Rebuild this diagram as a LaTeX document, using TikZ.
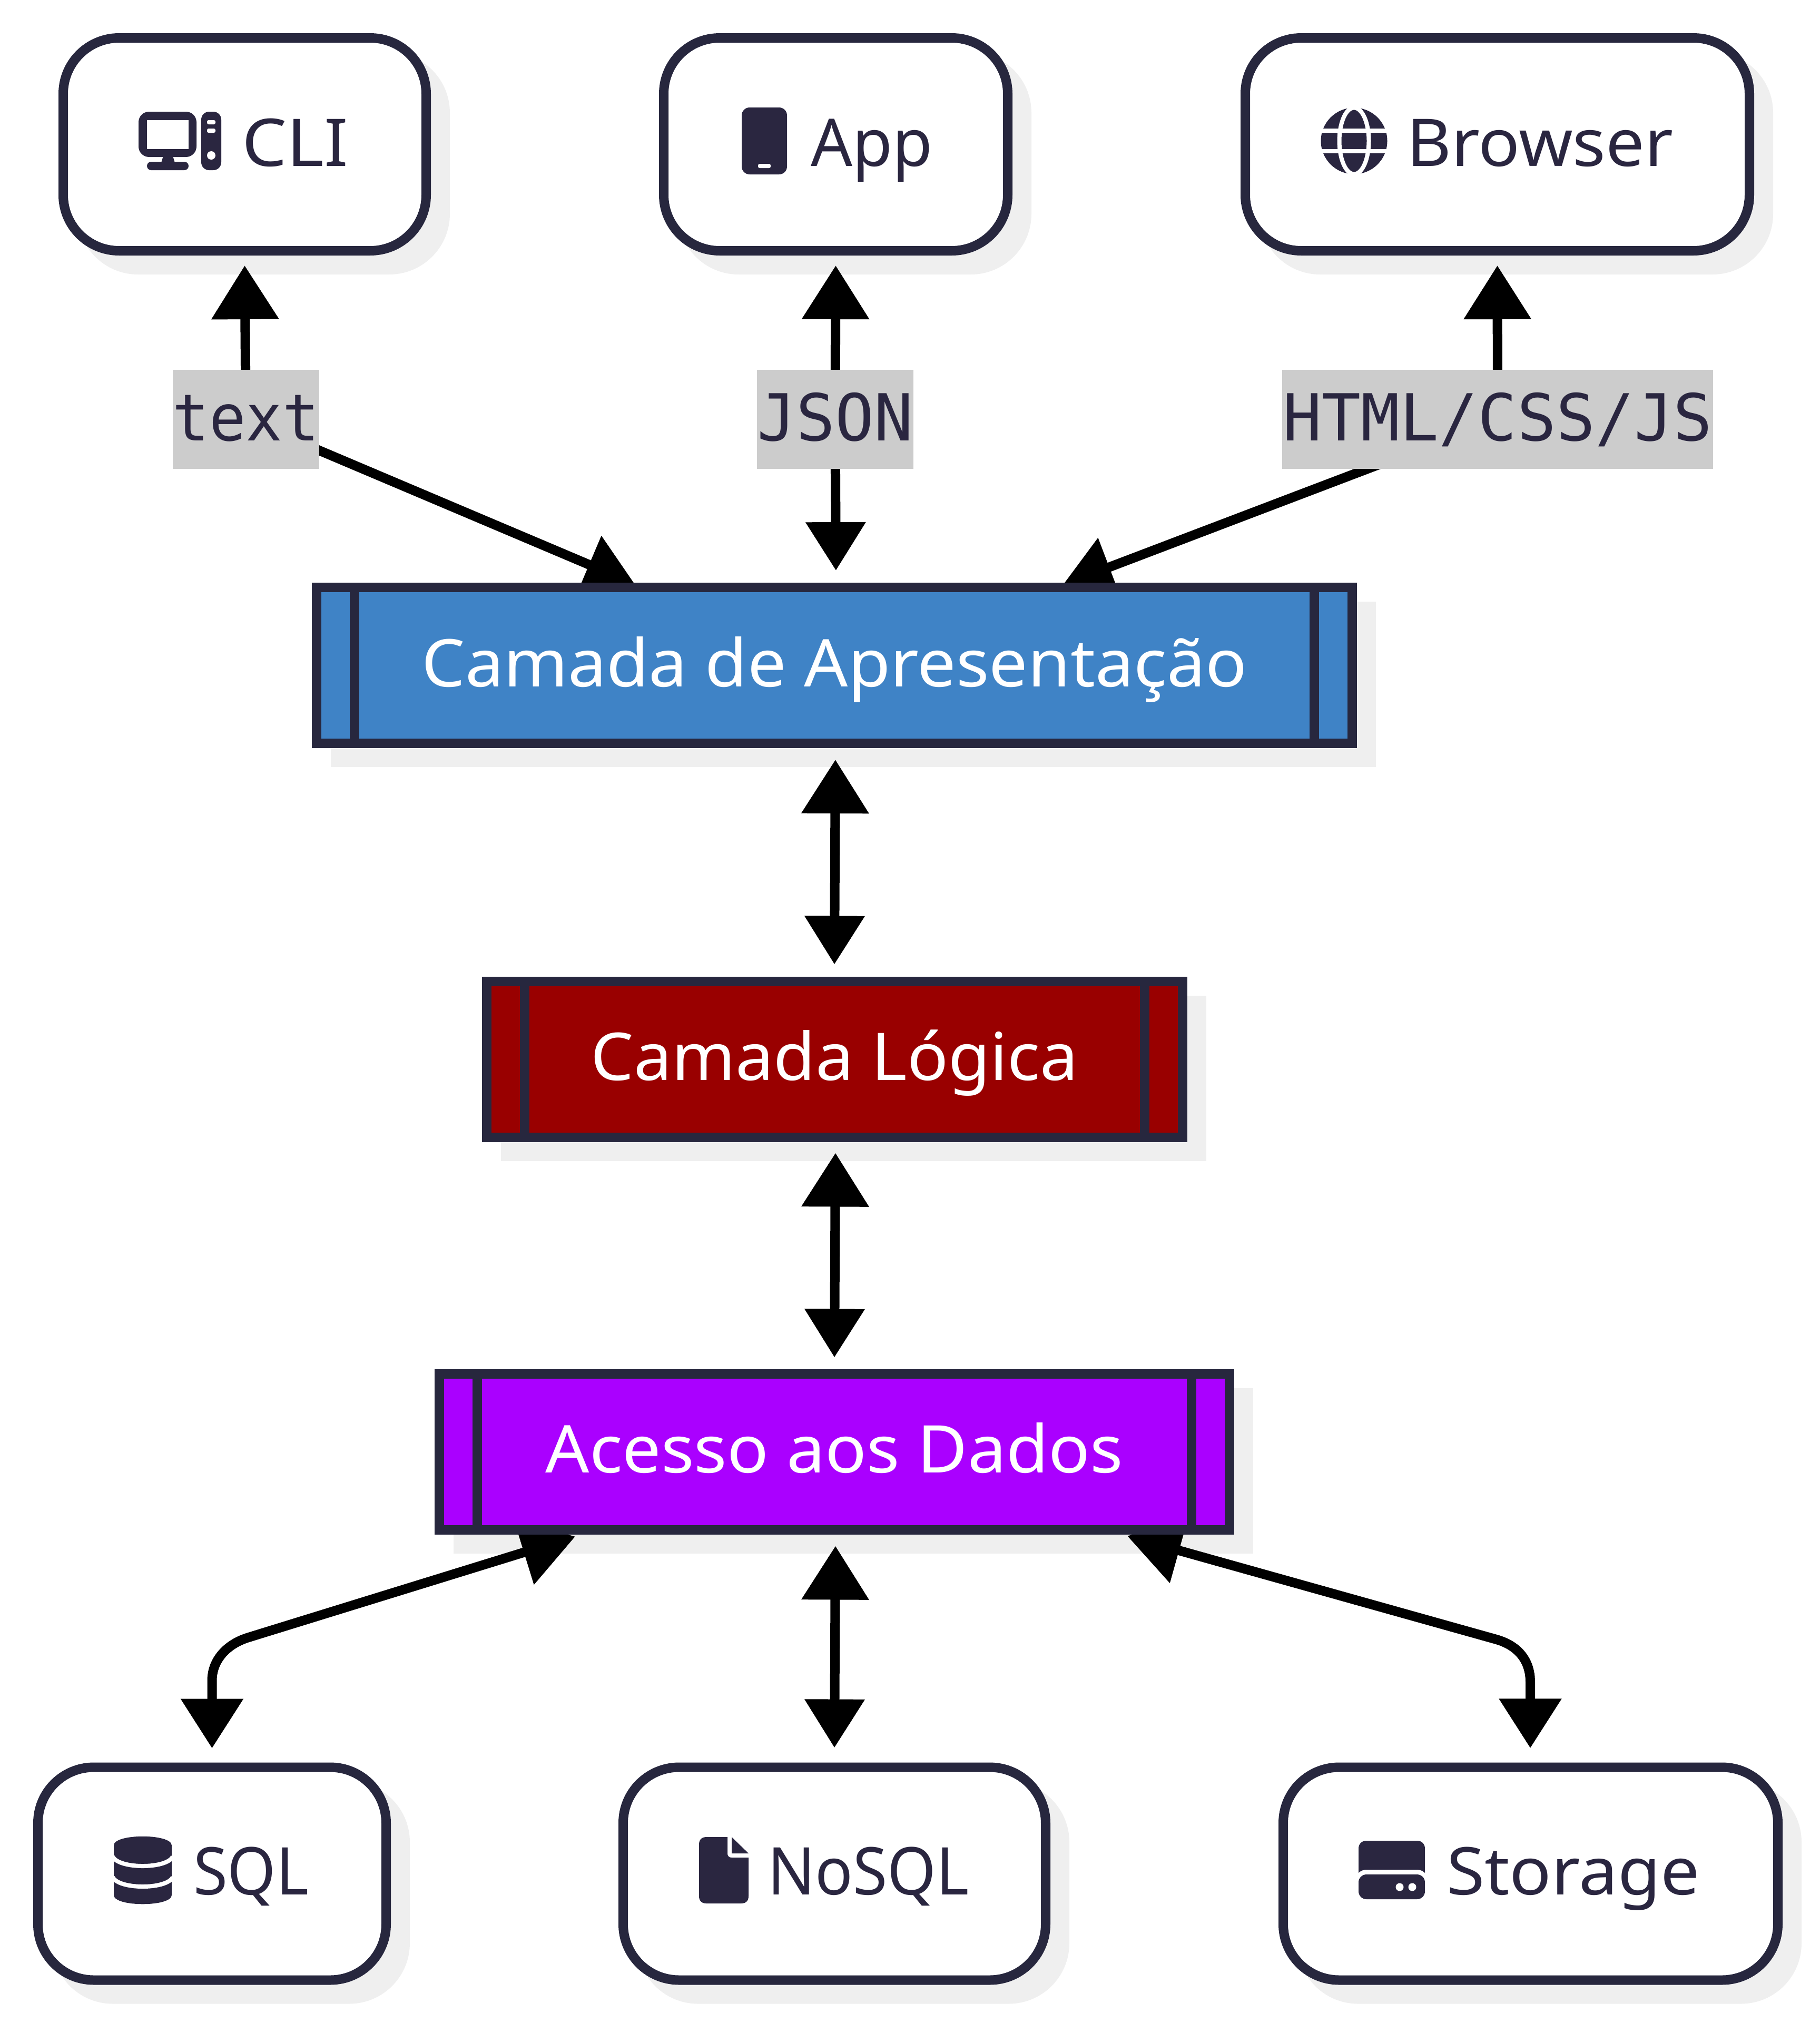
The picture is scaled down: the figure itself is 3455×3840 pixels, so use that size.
\documentclass[tikz,border=0pt]{standalone}
\usepackage{fontspec}
\setmainfont{Noto Sans}
\newfontfamily\labelfont{DejaVu Sans Mono}
\usetikzlibrary{arrows.meta}
\definecolor{ink}{HTML}{27273E}
\definecolor{inktext}{HTML}{2A2640}
\definecolor{shade}{HTML}{EFEFEF}
\definecolor{lblgrey}{HTML}{CCCCCC}
\definecolor{presblue}{HTML}{3F83C6}
\definecolor{logicred}{HTML}{990000}
\definecolor{datapurple}{HTML}{AA00FF}
\pgfdeclarelayer{shadowlayer}
\pgfdeclarelayer{edgelayer}
\pgfsetlayers{shadowlayer,edgelayer,main}
\tikzset{
  rbox/.style={rectangle,rounded corners=10.6pt,line width=1.8pt,draw=ink,fill=white,inner sep=0pt,outer sep=0pt,minimum height=40.4pt},
  rshadow/.style={rectangle,rounded corners=10.6pt,line width=1.8pt,draw=shade,fill=shade,inner sep=0pt,outer sep=0pt,minimum height=40.4pt},
  subbox/.style={rectangle,line width=1.8pt,draw=ink,inner sep=0pt,outer sep=0pt,minimum height=29.6pt,text=white,font=\fontsize{12.5pt}{14pt}\selectfont,text height=8pt,text depth=0pt},
  sshadow/.style={rectangle,line width=1.8pt,draw=shade,fill=shade,inner sep=0pt,outer sep=0pt,minimum height=29.6pt},
  bar/.style={line width=1.8pt,draw=ink},
  boxtext/.style={anchor=base west,inner sep=0pt,outer sep=0pt,text=inktext,font=\fontsize{12.5pt}{14pt}\selectfont},
  edgelabel/.style={rectangle,fill=lblgrey,inner sep=0pt,outer sep=0pt,minimum height=18.8pt,text=inktext,font=\labelfont\fontsize{12.3pt}{14pt}\selectfont,text height=8pt,text depth=0pt},
  conn/.style={line width=1.8pt,draw=black,{Triangle[length=10.2pt,width=12.4pt]}-{Triangle[length=9.2pt,width=11pt]}},
  connflat/.style={line width=1.8pt,draw=black,{Triangle[length=10.2pt,width=12.4pt]}-{Triangle[length=9.4pt,width=11.46pt]}},
  icon/.style={fill=inktext,draw=none},
  cut/.style={line width=0.8pt,draw=white}
}
\newcommand{\rnode}[4]{%
  \begin{pgfonlayer}{shadowlayer}
    \node[rshadow,minimum width=#4*0.1pt] (#1S) at (#2+36,#3+36) {};
  \end{pgfonlayer}
  \node[rbox,minimum width=#4*0.1pt] (#1) at (#2,#3) {};
}
\newcommand{\snode}[6]{%
  \begin{pgfonlayer}{shadowlayer}
    \node[sshadow,minimum width=#4*0.1pt] (#1S) at (#2+36,#3+36) {};
  \end{pgfonlayer}
  \node[subbox,fill=#5,minimum width=#4*0.1pt] (#1) at (#2,#3) {#6};
  \draw[bar] ([xshift=7.17pt]#1.north west) -- ([xshift=7.17pt]#1.south west);
  \draw[bar] ([xshift=-7.17pt]#1.north east) -- ([xshift=-7.17pt]#1.south east);
}
\begin{document}
\begin{tikzpicture}[x=0.1pt,y=-0.1pt]
\useasboundingbox (0,0) rectangle (3455,3840);

% top row
\rnode{cli}{464.5}{274}{689}
\rnode{app}{1586.5}{274}{653}
\rnode{browser}{2842.5}{274}{957}
% layers
\snode{pres}{1583.85}{1263}{1965.7}{presblue}{\scalebox{1.044}[1]{Camada de Apresentação}}
\snode{logic}{1584.5}{2010.5}{1321}{logicred}{\scalebox{1.033}[1]{Camada Lógica}}
\snode{data}{1584}{2755.5}{1500}{datapurple}{\scalebox{1.044}[1]{Acesso aos Dados}}
% bottom row
\rnode{sql}{402.5}{3556.5}{661}
\rnode{nosql}{1584}{3556.5}{802}
\rnode{storage}{2905.5}{3556.5}{939}

% box texts
\node[boxtext] (cliT) at (459,315) {\scalebox{1.08}[1]{CLI}};
\node[boxtext] (appT) at (1539,315) {\scalebox{0.99}[1]{App}};
\node[boxtext] (browserT) at (2670,315) {\scalebox{1.046}[1]{Browser}};
\node[boxtext] (sqlT) at (367,3596) {\scalebox{0.946}[1]{SQL}};
\node[boxtext] (nosqlT) at (1457,3596) {\scalebox{0.95}[1]{NoSQL}};
\node[boxtext] (storageT) at (2746,3596) {\scalebox{1.054}[1]{Storage}};

% edge labels
\node[edgelabel,minimum width=27.8pt] (lblText) at (466.8,796) {\scalebox{0.94}[1]{text}};
\node[edgelabel,minimum width=29.7pt] (lblJson) at (1585.5,796) {JSON};
\node[edgelabel,minimum width=81.8pt] (lblHtml) at (2843,796) {HTML/CSS/JS};

% connectors
\begin{pgfonlayer}{edgelayer}
\draw[connflat] ([yshift=-2.8pt]cli.south) -- (lblText.center) -- ([xshift=-37.9pt,yshift=0.65pt]pres.north);
\draw[conn] ([yshift=-2.8pt]app.south) -- (lblJson.center) -- ([xshift=0.3pt,yshift=3.2pt]pres.north);
\draw[connflat] ([yshift=-2.8pt]browser.south) -- (lblHtml.center) -- ([xshift=43.4pt,yshift=0.5pt]pres.north);
\draw[conn] ([xshift=0.2pt,yshift=-3.1pt]pres.south) -- ([xshift=-0.05pt,yshift=3.2pt]logic.north);
\draw[conn] ([xshift=0.15pt,yshift=-3pt]logic.south) -- ([yshift=3.1pt]data.north);
\draw[conn] ([xshift=0.2pt,yshift=-3.1pt]data.south) -- ([yshift=3.7pt]nosql.north);
\draw[connflat] ([xshift=-49.2pt,yshift=-1.3pt]data.south) -- (472,3108) .. controls (432,3120) and (402.5,3150) .. (402.5,3190) -- ([yshift=3.6pt]sql.north);
\draw[connflat] ([xshift=55.6pt,yshift=-1.2pt]data.south) -- (2840,3111.7) .. controls (2880,3123) and (2905,3150) .. (2905,3193) -- ([xshift=-0.05pt,yshift=3.63pt]storage.north);
\end{pgfonlayer}

% icon: desktop
\fill[icon,rounded corners=2pt] (263,212) rectangle (373,298);
\fill[white] (279,228) rectangle (358,283);
\fill[icon] (310,296) -- (328,296) -- (332,309) -- (306,309) -- cycle;
\fill[icon,rounded corners=0.8pt] (279,307) rectangle (358,323);
\fill[icon,rounded corners=1.5pt] (382,212) rectangle (420,323);
\fill[white,rounded corners=0.3pt] (393,228) rectangle (409,236);
\fill[white,rounded corners=0.3pt] (393,244) rectangle (409,252);
\fill[white] (401,295) circle (8);

% icon: phone
\fill[icon,rounded corners=1.5pt] (1408,204) rectangle (1494,331);
\fill[white,rounded corners=0.3pt] (1439,311) rectangle (1463,319);

% icon: globe
\fill[icon] (2570.5,267.5) circle (63);
\draw[cut] (2570.5,267.5) ellipse [x radius=28,y radius=63];
\draw[cut] (2500,248) -- (2640,248);
\draw[cut] (2500,287) -- (2640,287);

% icon: database
\fill[icon] (216,3503) .. controls (216,3480) and (326,3480) .. (326,3503) -- (326,3597) .. controls (326,3620) and (216,3620) .. (216,3597) -- cycle;
\draw[cut] (214,3524) .. controls (225,3548) and (317,3548) .. (328,3524);
\draw[cut] (214,3563) .. controls (225,3587) and (317,3587) .. (328,3563);

% icon: file
\fill[icon] (1341,3487) -- (1381,3487) -- (1381,3518) .. controls (1381,3523) and (1384,3526) .. (1389,3526) -- (1421,3526) -- (1421,3599) .. controls (1421,3608) and (1416,3613) .. (1407,3613) -- (1341,3613) .. controls (1332,3613) and (1327,3608) .. (1327,3599) -- (1327,3501) .. controls (1327,3492) and (1332,3487) .. (1341,3487) -- cycle;
\fill[icon] (1389,3487) -- (1421,3518) -- (1389,3518) -- cycle;

% icon: hard drive
\fill[icon] (2594,3494) -- (2690,3494) .. controls (2699,3494) and (2705,3500) .. (2705,3509) -- (2705,3555) .. controls (2701,3551) and (2696,3549) .. (2690,3549) -- (2594,3549) .. controls (2588,3549) and (2583,3551) .. (2579,3555) -- (2579,3509) .. controls (2579,3500) and (2585,3494) .. (2594,3494) -- cycle;
\fill[icon,rounded corners=1.5pt] (2579,3558) rectangle (2705,3605);
\fill[white] (2657,3582) circle (7.5);
\fill[white] (2681,3582) circle (7.5);
\end{tikzpicture}
\end{document}
